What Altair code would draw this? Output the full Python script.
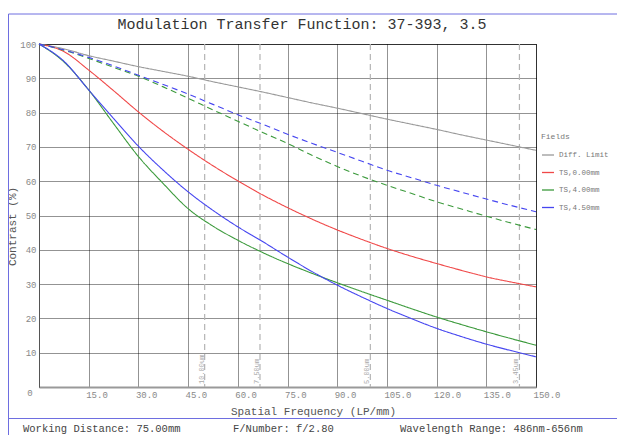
import altair as alt
import pandas as pd

# ---------------- data ----------------
nu = [0, 7.5, 15, 22.5, 30, 37.5, 45, 52.5, 60, 67.5, 75, 82.5, 90, 97.5,
      105, 112.5, 120, 127.5, 135, 142.5, 150]

diff_limit = [100, 98.6, 96.6, 95.0, 93.4, 92.0, 90.6, 89.0, 87.5, 86.0, 84.4,
              82.8, 81.3, 79.7, 78.1, 76.6, 75.1, 73.5, 72.0, 70.5, 69.0]
ts000 = [100, 97.8, 92.4, 86.4, 80.2, 74.5, 69.3, 64.5, 60.1, 56.0, 52.3,
         48.9, 45.8, 43.0, 40.4, 38.1, 36.0, 34.0, 32.1, 30.6, 29.2]
ts400_t = [100, 94.8, 86.6, 76.8, 67.2, 59.3, 52.0, 46.9, 42.8, 39.2, 36.0,
           33.1, 30.4, 27.8, 25.3, 22.8, 20.4, 18.2, 16.1, 14.1, 12.2]
ts400_s = [100, 98.2, 95.8, 93.2, 90.6, 87.5, 84.2, 80.8, 77.5, 74.2, 71.0,
           67.5, 64.3, 61.4, 58.8, 56.4, 54.0, 51.9, 49.8, 47.8, 45.9]
ts450_t = [100, 95.0, 86.6, 78.3, 70.2, 63.2, 56.9, 51.5, 46.7, 42.4, 37.9,
           33.6, 29.7, 26.2, 22.9, 19.9, 17.1, 14.7, 12.5, 10.6, 8.8]
ts450_s = [100, 98.3, 96.1, 93.6, 90.9, 88.2, 85.4, 82.4, 79.4, 76.6, 73.7,
           71.0, 68.4, 65.8, 63.2, 61.0, 58.8, 56.8, 54.8, 52.9, 51.1]

fields = ["Diff. Limit", "TS,0.00mm", "TS,4.00mm", "TS,4.50mm"]
field_colors = ["#9a9a9a", "#f04848", "#3c9a3c", "#4646f0"]

pitch_nu = [50, 66.7, 100, 145]
pitch_labels = ["10.00um", "7.50um", "5.00um", "3.45um"]

x_ticks = [15, 30, 45, 60, 75, 90, 105, 120, 135, 150]
y_ticks = [10, 20, 30, 40, 50, 60, 70, 80, 90, 100]

title_text = "Modulation Transfer Function: 37-393, 3.5"
footer_texts = ["Working Distance: 75.00mm", "F/Number: f/2.80",
                "Wavelength Range: 486nm-656nm"]

# ---------------- tables ----------------
series = [
    ("Diff. Limit", "T", diff_limit),
    ("TS,0.00mm", "T", ts000),
    ("TS,4.00mm", "T", ts400_t),
    ("TS,4.00mm", "S", ts400_s),
    ("TS,4.50mm", "T", ts450_t),
    ("TS,4.50mm", "S", ts450_s),
]
rows = []
for name, kind, vals in series:
    for f, v in zip(nu, vals):
        rows.append({"Field": name, "Kind": kind, "key": name + kind,
                     "nu": f, "mtf": v})
df = pd.DataFrame(rows)
pitch_df = pd.DataFrame({"nu": pitch_nu, "label": pitch_labels})

W, H = 497, 343
MONO = "Liberation Mono"

xscale = alt.Scale(domain=[0, 150], nice=False, zero=False)
yscale = alt.Scale(domain=[0, 100], nice=False)

# pixel-pitch reference lines
pitch_lines = alt.Chart(pitch_df).mark_rule(
    color="#b4b4b4", strokeDash=[6, 4], strokeWidth=1.2
).encode(x=alt.X("nu:Q", scale=xscale), y=alt.value(0), y2=alt.value(H))

pitch_text = alt.Chart(pitch_df).mark_text(
    angle=270, align="left", baseline="bottom", font=MONO, fontSize=7,
    color="#a8a8a8"
).encode(x=alt.X("nu:Q", scale=xscale), y=alt.value(H - 3), text="label:N")

lines = alt.Chart(df).mark_line(strokeWidth=1.1, interpolate="monotone").encode(
    x=alt.X("nu:Q", scale=xscale,
            axis=alt.Axis(values=x_ticks, format=".1f", grid=True,
                          title="Spatial Frequency (LP/mm)",
                          titleX=274, titlePadding=6,
                          labelAlign="left", labelOffset=-3, labelPadding=3)),
    y=alt.Y("mtf:Q", scale=yscale,
            axis=alt.Axis(values=y_ticks, grid=True, title="Contrast (%)",
                          titleX=-22, titleY=182, labelPadding=3)),
    color=alt.Color("Field:N",
                    scale=alt.Scale(domain=fields, range=field_colors),
                    legend=alt.Legend(title="Fields", orient="none",
                                      legendX=502, legendY=89,
                                      symbolType="stroke", symbolSize=144,
                                      symbolStrokeWidth=1.3,
                                      titleFont=MONO, titleFontSize=8,
                                      titleFontWeight="normal",
                                      titleColor="#777", titlePadding=7,
                                      labelFont=MONO, labelFontSize=7.5,
                                      labelColor="#777", rowPadding=6.5,
                                      labelOffset=4)),
    strokeDash=alt.StrokeDash("Kind:N",
                              scale=alt.Scale(domain=["T", "S"],
                                              range=[[1, 0], [6, 4]]),
                              legend=None),
    detail="key:N",
)

one = pd.DataFrame({"a": [0]})

title = alt.Chart(one).mark_text(
    font=MONO, fontSize=15, color="#333", align="center", baseline="middle"
).encode(x=alt.value(263), y=alt.value(-20), text=alt.value(title_text))

zero_lbl = alt.Chart(one).mark_text(
    font=MONO, fontSize=9, color="#888", align="center", baseline="middle"
).encode(x=alt.value(-9), y=alt.value(H + 6), text=alt.value("0"))

footer_x = [-16, 194, 361]
footers = [
    alt.Chart(one).mark_text(font=MONO, fontSize=10.5, color="#444",
                             align="left", baseline="middle")
    .encode(x=alt.value(fx), y=alt.value(384.5), text=alt.value(t))
    for fx, t in zip(footer_x, footer_texts)
]

frame_color = "#6e6ee0"
frame_top = alt.Chart(one).mark_rule(color=frame_color, strokeWidth=1).encode(
    x=alt.value(-30.5), x2=alt.value(600), y=alt.value(-30))
frame_left = alt.Chart(one).mark_rule(color=frame_color, strokeWidth=1).encode(
    x=alt.value(-30.5), y=alt.value(-30), y2=alt.value(400))
frame_foot = alt.Chart(one).mark_rule(color=frame_color, strokeWidth=1).encode(
    x=alt.value(-30.5), x2=alt.value(600), y=alt.value(374.5))

chart = alt.layer(
    pitch_lines, pitch_text, lines, title, zero_lbl, *footers,
    frame_top, frame_left, frame_foot
).properties(
    width=W, height=H,
    padding={"left": 31, "top": 36, "right": 81, "bottom": 48},
    autosize=alt.AutoSizeParams(type="none"),
    background="white",
).configure_view(
    stroke="#555", strokeWidth=1
).configure_axis(
    gridColor="#000", gridDash=[1, 1], gridWidth=1, gridOpacity=0.85,
    ticks=False, labelFont=MONO, labelFontSize=9, labelColor="#888",
    titleFont=MONO, titleFontSize=11, titleFontWeight="normal",
    titleColor="#555", domainColor="#555"
).configure_axisX(
    domainColor="#999", domainWidth=2
)

chart.save("out.html", embed_options={"renderer": "svg", "actions": False})
